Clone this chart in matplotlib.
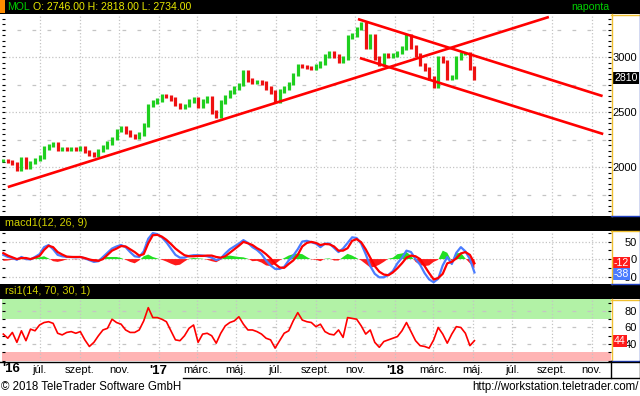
import matplotlib
matplotlib.use("Agg")
import matplotlib.pyplot as plt
from matplotlib.ticker import MultipleLocator, FixedLocator
from matplotlib.patches import Rectangle
from matplotlib.lines import Line2D
import numpy as np
import pandas as pd

plt.rcParams["font.family"] = ["Liberation Sans", "DejaVu Sans"]

# weekly samples, 2016-05-06 .. 2018-05-04
dates = pd.date_range("2016-05-06", periods=105, freq="7D")
close = [2060, 2050, 2030, 1980, 2075, 2000, 2040, 2070, 2090, 2175,
         2195, 2210, 2160, 2165, 2160, 2170, 2165, 2175, 2140, 2120,
         2105, 2150, 2180, 2220, 2260, 2330, 2360, 2320, 2285, 2270,
         2300, 2380, 2560, 2590, 2610, 2650, 2640, 2620, 2570, 2540,
         2560, 2600, 2620, 2550, 2600, 2630, 2500, 2460, 2590, 2640,
         2680, 2720, 2750, 2870, 2790, 2770, 2775, 2765, 2720, 2680,
         2595, 2690, 2720, 2760, 2840, 2925, 2915, 2905, 2895, 2920,
         2945, 3010, 3040, 3010, 2960, 2990, 3180, 3200, 3260, 3300,
         3090, 3190, 2990, 2930, 3020, 3010, 3020, 3040, 3080, 3190,
         3090, 3020, 2930, 2890, 2810, 2730, 2990, 2960, 2810, 2820,
         2990, 3030, 3030, 2900, 2810]
macd_line = [12, 6, 3, -2, 6, 0, -1, 6, 14, 34,
             40, 28, 12, 8, 6, 6, 5, 6, 2, -3,
             -8, -6, 6, 18, 30, 36, 40, 34, 20, 8,
             6, 22, 58, 74, 71, 62, 48, 30, 12, 4,
             4, 9, 11, 11, 10, 8, 4, -3, 2, 16,
             28, 36, 44, 54, 46, 34, 26, 14, -4, -18,
             -28, -28, -22, -4, 10, 28, 50, 52, 48, 44,
             34, 44, 44, 32, 20, 30, 46, 62, 60, 44,
             14, -20, -42, -52, -52, -45, -34, -12, 4, 24,
             20, 0, -16, -40, -58, -66, -56, -18, 6, -14,
             18, 34, 22, 0, -38]
signal_line = [17, 10, 5, 0, 3, 3, 0, 4, 9, 26,
               38, 34, 20, 13, 7, 6, 6, 6, 3, -1,
               -4, -5, 0, 12, 24, 30, 37, 36, 28, 20,
               10, 14, 45, 68, 69, 64, 55, 43, 30, 20,
               11, 8, 8, 9, 9, 10, 10, 6, 4, 8,
               18, 28, 38, 49, 45, 40, 31, 24, 14, 2,
               -14, -24, -25, -14, -4, 12, 36, 46, 49, 46,
               40, 43, 42, 36, 24, 24, 31, 52, 57, 48,
               28, 4, -20, -36, -44, -46, -38, -26, -12, 4,
               10, 8, 0, -20, -40, -58, -54, -42, -12, -8,
               2, 16, 20, 12, -12]
rsi_line = [52, 47, 54, 42, 56, 44, 58, 56, 63, 66,
            67, 65, 53, 51, 54, 55, 53, 55, 45, 37,
            42, 50, 57, 59, 70, 66, 64, 57, 54, 54,
            57, 68, 84, 72, 72, 70, 67, 56, 45, 44,
            50, 59, 63, 42, 52, 53, 50, 41, 53, 62,
            66, 68, 73, 64, 57, 57, 55, 52, 47, 45,
            35, 44, 53, 56, 68, 78, 69, 67, 66, 61,
            64, 55, 52, 51, 57, 48, 72, 71, 70, 62,
            52, 57, 42, 36, 43, 45, 47, 49, 56, 66,
            55, 44, 38, 37, 35, 45, 60, 52, 41, 52,
            61, 60, 53, 38, 44]

# trend lines drawn on the chart (start, end)
trend_start = pd.to_datetime(["2016-05-13", "2017-11-05", "2017-11-08"])
trend_end = pd.to_datetime(["2018-08-27", "2018-11-18", "2018-11-19"])
trend_p0 = [1818, 3345, 2991]
trend_p1 = [3364, 2645, 2300]

tick_dates = pd.to_datetime(["2016-07-01", "2016-09-01", "2016-11-01", "2017-01-01",
                             "2017-03-01", "2017-05-01", "2017-07-01", "2017-09-01",
                             "2017-11-01", "2018-01-01", "2018-03-01", "2018-05-01",
                             "2018-07-01", "2018-09-01", "2018-11-01"])
tick_labels = ["júl.", "szept.", "nov.", "'17", "márc.", "máj.", "júl.", "szept.",
               "nov.", "'18", "márc.", "máj.", "júl.", "szept.", "nov."]

last_open, last_high, last_low = 2746.00, 2818.00, 2734.00

W, H = 640, 396
fig = plt.figure(figsize=(6.4, 3.96), dpi=100)
fig.patch.set_facecolor("white")


def fbox(x0, y0, x1, y1):
    return [x0 / W, 1 - y1 / H, (x1 - x0) / W, (y1 - y0) / H]


def fline(x0, y0, x1, y1, color, lw=1.0):
    fig.add_artist(Line2D([x0 / W, x1 / W], [1 - y0 / H, 1 - y1 / H],
                          transform=fig.transFigure, color=color, lw=lw))


def frect(x0, y0, x1, y1, color):
    fig.add_artist(Rectangle((x0 / W, 1 - y1 / H), (x1 - x0) / W, (y1 - y0) / H,
                             transform=fig.transFigure, color=color, lw=0))


# black title bars
for y0, y1 in [(0, 14), (216, 231), (284, 299)]:
    frect(0, y0, W, y1, "black")
frect(0, 0, 5, 13, "#ff8c00")

GRID = "#c4c4c4"
LBL = 8.0
ax = fig.add_axes(fbox(2, 14, 611, 216))
am = fig.add_axes(fbox(2, 231, 611, 284), sharex=ax)
ar = fig.add_axes(fbox(2, 299, 611, 361), sharex=ax)
xmin, xmax = pd.Timestamp("2016-05-04"), pd.Timestamp("2018-12-01")

for a in (ax, am, ar):
    for s in a.spines.values():
        s.set_visible(False)
    a.set_xlim(xmin, xmax)
    a.set_xticks(tick_dates)
    a.grid(axis="x", color=GRID, ls=":", lw=0.9)
    a.tick_params(axis="x", length=0)
    a.tick_params(axis="y", which="both", direction="in", left=True, right=True,
                  labelleft=False, labelright=True, length=2.5, width=0.8,
                  labelsize=LBL, pad=18.5)
    a.set_axisbelow(True)

# price panel
ax.set_ylim(1555, 3391)
ax.yaxis.set_major_locator(FixedLocator([2000, 2500, 3000]))
ax.yaxis.set_minor_locator(MultipleLocator(50))
ax.tick_params(axis="x", labelbottom=False)
for v in [2000, 2500, 3000]:
    ax.axhline(v, color=GRID, ls=":", lw=0.9, zorder=0)
for v in [1750, 2250, 2750, 3250]:
    ax.axhline(v, color=GRID, lw=0.9, dashes=(3, 9), zorder=0)

c = np.asarray(close, float)
o = np.r_[c[0], c[:-1]]
up = c >= o
rng = 16  # bar overhang standing in for the intraweek high/low
lo = np.minimum(o, c) - rng
hi = np.maximum(o, c) + rng
ax.vlines(dates[up], lo[up], hi[up], color="#1fcf1f", lw=2.3)
ax.vlines(dates[~up], lo[~up], hi[~up], color="#ee1111", lw=2.3)
for d0, d1, p0, p1 in zip(trend_start, trend_end, trend_p0, trend_p1):
    ax.plot([d0, d1], [p0, p1], color="#ff0000", lw=1.9, solid_capstyle="butt")
ax.text(1.0445, c[-1], f"{c[-1]:.0f}", transform=ax.get_yaxis_transform(),
        ha="right", va="center", color="white", fontsize=7.6,
        bbox=dict(boxstyle="square,pad=0.12", fc="black", ec="none"))

# macd panel
m = np.asarray(macd_line, float)
s = np.asarray(signal_line, float)
hist = m - s
am.set_ylim(-71, 80)
am.yaxis.set_major_locator(FixedLocator([-50, 0, 50]))
am.yaxis.set_minor_locator(MultipleLocator(25))
am.tick_params(axis="x", labelbottom=False)
for v in [-50, 0, 50]:
    am.axhline(v, color=GRID, ls=":", lw=0.9, zorder=0)
am.fill_between(dates, 0, hist, where=hist >= 0, color="#22e022", lw=0, interpolate=True)
am.fill_between(dates, 0, hist, where=hist < 0, color="#ff1a1a", lw=0, interpolate=True)
am.plot(dates, m, color="#4a7cff", lw=1.6)
am.plot(dates, s, color="#ff0000", lw=1.6)
am.text(1.0045, s[-1], f"{s[-1]:.0f}", transform=am.get_yaxis_transform(),
        ha="left", va="center", color="white", fontsize=7.6, zorder=5,
        bbox=dict(boxstyle="square,pad=0.1", fc="#ff1a1a", ec="none"))
am.text(1.0045, m[-1] - 5, f"{m[-1]:.0f}", transform=am.get_yaxis_transform(),
        ha="left", va="center", color="white", fontsize=7.6, zorder=5,
        bbox=dict(boxstyle="square,pad=0.1", fc="#4a7cff", ec="none"))

# rsi panel
r = np.asarray(rsi_line, float)
ar.set_ylim(19.4, 94.5)
ar.yaxis.set_major_locator(FixedLocator([40, 60, 80]))
ar.yaxis.set_minor_locator(MultipleLocator(10))
ar.axhspan(70, 100, color="#b2f2a6", lw=0, zorder=0)
ar.axhspan(0, 30, color="#ffb4b4", lw=0, zorder=0)
for v in [40, 60, 80]:
    ar.axhline(v, color=GRID, lw=0.9, dashes=(3, 9), zorder=0.5)
ar.plot(dates, r, color="#ff0000", lw=1.2)
ar.text(1.0045, r[-1], f"{r[-1]:.0f}", transform=ar.get_yaxis_transform(),
        ha="left", va="center", color="white", fontsize=7.6, zorder=5,
        bbox=dict(boxstyle="square,pad=0.1", fc="#ff1a1a", ec="none"))
ar.set_xticklabels(tick_labels)
ar.tick_params(axis="x", labelsize=LBL, pad=3)
for lbl in ar.get_xticklabels():
    if lbl.get_text().startswith("'"):
        lbl.set_fontweight("bold")
        lbl.set_fontsize(9.5)
ar.text(0.0, -0.04, "'16", transform=ar.transAxes, ha="left", va="top",
        fontsize=9.5, fontweight="bold")

for a in (ax, am, ar):
    for lbl in a.get_yticklabels():
        lbl.set_ha("right")

# right value-axis frames
for top, bot in [(14, 216), (231, 284), (299, 361)]:
    fline(611.5, top, 611.5, bot, "#f0c030")
    fline(611, top + 0.5, 640, top + 0.5, "#f0c030")
    fline(639.5, top, 639.5, bot, "#2040c0")
    fline(611, bot - 0.5, 640, bot - 0.5, "#2040c0")

# date row frame
fline(0, 361.5, 640, 361.5, "black")
fline(610.5, 361, 610.5, 378, "black")
fline(639.5, 361, 639.5, 378, "black")
fline(183, 378, 640, 378, "black")

# header and titles
t_mol = fig.text(7 / W, 1 - 7 / H, "MOL", color="#00d000", fontsize=7.6, va="center")
fig.canvas.draw()
x_end = t_mol.get_window_extent().x1
fig.text((x_end + 3) / W, 1 - 7 / H,
         f"O: {last_open:.2f} H: {last_high:.2f} L: {last_low:.2f}",
         color="#e8e800", fontsize=7.6, va="center")
fig.text(609 / W, 1 - 7 / H, "naponta", color="#00d000", fontsize=7.6,
         va="center", ha="right")
fig.text(5 / W, 1 - 223 / H, "macd1(12, 26, 9)", color="#d0d000", fontsize=7.8, va="center")
fig.text(5 / W, 1 - 291 / H, "rsi1(14, 70, 30, 1)", color="#d0d000", fontsize=7.8, va="center")
fig.text(1 / W, 1 - 387 / H, "© 2018 TeleTrader Software GmbH", fontsize=8.3, va="center")
fig.text(639 / W, 1 - 387 / H, "http://workstation.teletrader.com/", fontsize=8.3,
         va="center", ha="right")

fig.savefig("out.png", dpi=100)
